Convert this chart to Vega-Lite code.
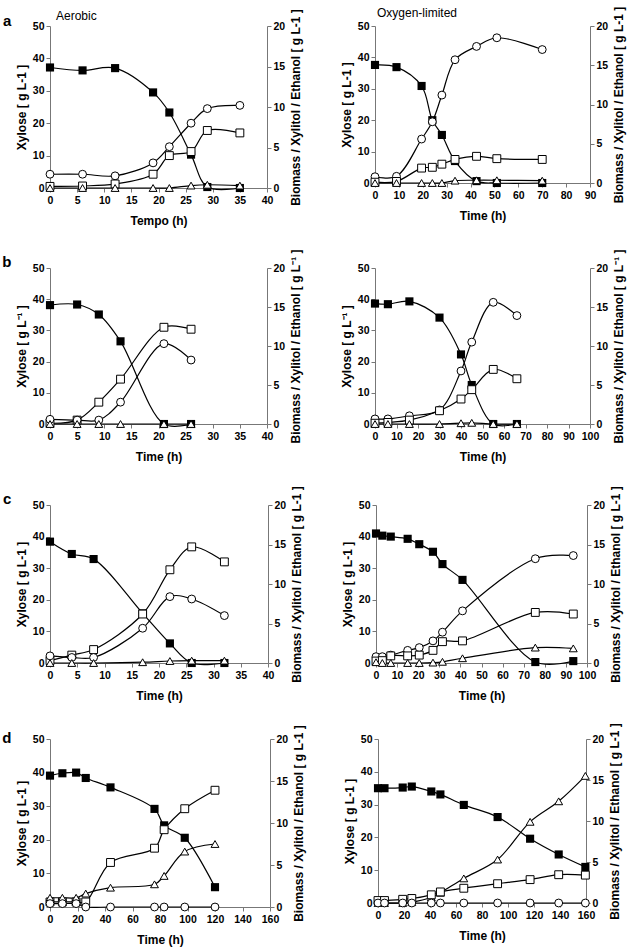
{
"$schema": "https://vega.github.io/schema/vega-lite/v6.json",
"padding": {"left": 2, "top": 6, "right": 2, "bottom": 2},
"spacing": 20,
"config": {
  "font": "Liberation Sans",
  "view": {"stroke": null},
  "axis": {"grid": false, "labelFont": "Liberation Sans", "labelFontWeight": "bold", "labelFontSize": 10.5, "labelColor": "black", "labelOverlap": false, "labelFlush": false, "titleFont": "Liberation Sans", "titleFontSize": 12, "titleFontWeight": "bold", "titleColor": "black", "domainColor": "#777", "tickColor": "#777", "tickSize": 4, "labelPadding": 2},
  "axisX": {"labelPadding": 3, "titlePadding": 10},
  "axisRight": {"titleAngle": 270, "titleBaseline": "top", "titlePadding": 6},
  "title": {"font": "Liberation Sans", "color": "black"}
},
"datasets": {"d": [
{"p":"aL","s":"X","t":0,"v":37.2},{"p":"aL","s":"X","t":6,"v":36.3},{"p":"aL","s":"X","t":12,"v":37},{"p":"aL","s":"X","t":19,"v":29.5},{"p":"aL","s":"X","t":22,"v":23.3},{"p":"aL","s":"X","t":26,"v":10.3},{"p":"aL","s":"X","t":29,"v":0.3},{"p":"aL","s":"X","t":35,"v":0},
{"p":"aL","s":"C","t":0,"v":1.7},{"p":"aL","s":"C","t":6,"v":1.7},{"p":"aL","s":"C","t":12,"v":1.5},{"p":"aL","s":"C","t":19,"v":3.1},{"p":"aL","s":"C","t":22,"v":5.1},{"p":"aL","s":"C","t":26,"v":8},{"p":"aL","s":"C","t":29,"v":9.8},{"p":"aL","s":"C","t":35,"v":10.2},
{"p":"aL","s":"S","t":0,"v":0.2},{"p":"aL","s":"S","t":6,"v":0.25},{"p":"aL","s":"S","t":12,"v":0.5},{"p":"aL","s":"S","t":19,"v":1.7},{"p":"aL","s":"S","t":22,"v":4},{"p":"aL","s":"S","t":26,"v":4.5},{"p":"aL","s":"S","t":29,"v":7.1},{"p":"aL","s":"S","t":35,"v":6.8},
{"p":"aL","s":"T","t":0,"v":0},{"p":"aL","s":"T","t":6,"v":0},{"p":"aL","s":"T","t":12,"v":0},{"p":"aL","s":"T","t":19,"v":0},{"p":"aL","s":"T","t":22,"v":0},{"p":"aL","s":"T","t":26,"v":0.3},{"p":"aL","s":"T","t":29,"v":0.4},{"p":"aL","s":"T","t":35,"v":0.3},
{"p":"aR","s":"X","t":0,"v":37.6},{"p":"aR","s":"X","t":9,"v":36.9},{"p":"aR","s":"X","t":19.5,"v":30.9},{"p":"aR","s":"X","t":24,"v":20},{"p":"aR","s":"X","t":28,"v":15.3},{"p":"aR","s":"X","t":33.5,"v":7},{"p":"aR","s":"X","t":42.5,"v":0.6},{"p":"aR","s":"X","t":51,"v":0},{"p":"aR","s":"X","t":70,"v":0},
{"p":"aR","s":"C","t":0,"v":0.8},{"p":"aR","s":"C","t":9,"v":0.85},{"p":"aR","s":"C","t":19.5,"v":5.6},{"p":"aR","s":"C","t":24,"v":7.8},{"p":"aR","s":"C","t":28,"v":11.2},{"p":"aR","s":"C","t":33.5,"v":15.7},{"p":"aR","s":"C","t":42.5,"v":17.4},{"p":"aR","s":"C","t":51,"v":18.5},{"p":"aR","s":"C","t":70,"v":17},
{"p":"aR","s":"S","t":0,"v":0.1},{"p":"aR","s":"S","t":9,"v":0.2},{"p":"aR","s":"S","t":19.5,"v":1.9},{"p":"aR","s":"S","t":24,"v":2},{"p":"aR","s":"S","t":28,"v":2.4},{"p":"aR","s":"S","t":33.5,"v":3},{"p":"aR","s":"S","t":42.5,"v":3.4},{"p":"aR","s":"S","t":51,"v":3.1},{"p":"aR","s":"S","t":70,"v":3},
{"p":"aR","s":"T","t":0,"v":0},{"p":"aR","s":"T","t":9,"v":0},{"p":"aR","s":"T","t":19.5,"v":0},{"p":"aR","s":"T","t":24,"v":0},{"p":"aR","s":"T","t":28,"v":0},{"p":"aR","s":"T","t":33.5,"v":0.3},{"p":"aR","s":"T","t":42.5,"v":0.35},{"p":"aR","s":"T","t":51,"v":0.35},{"p":"aR","s":"T","t":70,"v":0.3},
{"p":"bL","s":"X","t":0,"v":38.1},{"p":"bL","s":"X","t":5,"v":38.3},{"p":"bL","s":"X","t":9,"v":35.1},{"p":"bL","s":"X","t":13,"v":26.5},{"p":"bL","s":"X","t":21,"v":0},{"p":"bL","s":"X","t":26,"v":0},
{"p":"bL","s":"S","t":0,"v":0.1},{"p":"bL","s":"S","t":5,"v":0.5},{"p":"bL","s":"S","t":9,"v":2.8},{"p":"bL","s":"S","t":13,"v":5.75},{"p":"bL","s":"S","t":21,"v":12.4},{"p":"bL","s":"S","t":26,"v":12.15},
{"p":"bL","s":"C","t":0,"v":0.6},{"p":"bL","s":"C","t":5,"v":0.5},{"p":"bL","s":"C","t":9,"v":0.5},{"p":"bL","s":"C","t":13,"v":2.8},{"p":"bL","s":"C","t":21,"v":10.3},{"p":"bL","s":"C","t":26,"v":8.2},
{"p":"bL","s":"T","t":0,"v":0},{"p":"bL","s":"T","t":5,"v":0},{"p":"bL","s":"T","t":9,"v":0},{"p":"bL","s":"T","t":13,"v":0},{"p":"bL","s":"T","t":21,"v":0},{"p":"bL","s":"T","t":26,"v":0},
{"p":"bR","s":"X","t":0,"v":38.6},{"p":"bR","s":"X","t":6,"v":38.4},{"p":"bR","s":"X","t":16,"v":39.3},{"p":"bR","s":"X","t":30,"v":34.1},{"p":"bR","s":"X","t":40,"v":22.3},{"p":"bR","s":"X","t":45,"v":12.5},{"p":"bR","s":"X","t":55,"v":0},{"p":"bR","s":"X","t":66,"v":0},
{"p":"bR","s":"C","t":0,"v":0.65},{"p":"bR","s":"C","t":6,"v":0.65},{"p":"bR","s":"C","t":16,"v":1.05},{"p":"bR","s":"C","t":30,"v":1.8},{"p":"bR","s":"C","t":40,"v":6.8},{"p":"bR","s":"C","t":45,"v":10.5},{"p":"bR","s":"C","t":55,"v":15.6},{"p":"bR","s":"C","t":66,"v":13.9},
{"p":"bR","s":"S","t":0,"v":0.1},{"p":"bR","s":"S","t":6,"v":0.2},{"p":"bR","s":"S","t":16,"v":0.5},{"p":"bR","s":"S","t":30,"v":1.7},{"p":"bR","s":"S","t":40,"v":3.2},{"p":"bR","s":"S","t":45,"v":4.4},{"p":"bR","s":"S","t":55,"v":7},{"p":"bR","s":"S","t":66,"v":5.8},
{"p":"bR","s":"T","t":0,"v":0},{"p":"bR","s":"T","t":6,"v":0},{"p":"bR","s":"T","t":16,"v":0},{"p":"bR","s":"T","t":30,"v":0},{"p":"bR","s":"T","t":40,"v":0.1},{"p":"bR","s":"T","t":45,"v":0.15},{"p":"bR","s":"T","t":55,"v":0},{"p":"bR","s":"T","t":66,"v":0},
{"p":"cL","s":"X","t":0,"v":38.4},{"p":"cL","s":"X","t":4,"v":34.5},{"p":"cL","s":"X","t":8,"v":32.9},{"p":"cL","s":"X","t":17,"v":15.7},{"p":"cL","s":"X","t":22,"v":6.2},{"p":"cL","s":"X","t":26,"v":0},{"p":"cL","s":"X","t":32,"v":0},
{"p":"cL","s":"S","t":0,"v":0.3},{"p":"cL","s":"S","t":4,"v":1},{"p":"cL","s":"S","t":8,"v":1.7},{"p":"cL","s":"S","t":17,"v":6.2},{"p":"cL","s":"S","t":22,"v":11.8},{"p":"cL","s":"S","t":26,"v":14.7},{"p":"cL","s":"S","t":32,"v":12.8},
{"p":"cL","s":"C","t":0,"v":0.9},{"p":"cL","s":"C","t":4,"v":0.7},{"p":"cL","s":"C","t":8,"v":0.7},{"p":"cL","s":"C","t":17,"v":4.4},{"p":"cL","s":"C","t":22,"v":8.4},{"p":"cL","s":"C","t":26,"v":8.1},{"p":"cL","s":"C","t":32,"v":6},
{"p":"cL","s":"T","t":0,"v":0},{"p":"cL","s":"T","t":4,"v":0},{"p":"cL","s":"T","t":8,"v":0},{"p":"cL","s":"T","t":17,"v":0.1},{"p":"cL","s":"T","t":22,"v":0.25},{"p":"cL","s":"T","t":26,"v":0.3},{"p":"cL","s":"T","t":32,"v":0.3},
{"p":"cR","s":"X","t":0,"v":41},{"p":"cR","s":"X","t":3,"v":40.3},{"p":"cR","s":"X","t":7,"v":40},{"p":"cR","s":"X","t":15,"v":39.3},{"p":"cR","s":"X","t":20.5,"v":37.6},{"p":"cR","s":"X","t":27,"v":35.2},{"p":"cR","s":"X","t":31.5,"v":31.3},{"p":"cR","s":"X","t":41,"v":26.3},{"p":"cR","s":"X","t":75.5,"v":0.3},{"p":"cR","s":"X","t":93.5,"v":0.6},
{"p":"cR","s":"C","t":0,"v":0.8},{"p":"cR","s":"C","t":3,"v":0.8},{"p":"cR","s":"C","t":7,"v":1},{"p":"cR","s":"C","t":15,"v":1.6},{"p":"cR","s":"C","t":20.5,"v":1.95},{"p":"cR","s":"C","t":27,"v":2.8},{"p":"cR","s":"C","t":31.5,"v":3.9},{"p":"cR","s":"C","t":41,"v":6.6},{"p":"cR","s":"C","t":75.5,"v":13.2},{"p":"cR","s":"C","t":93.5,"v":13.6},
{"p":"cR","s":"S","t":0,"v":0.25},{"p":"cR","s":"S","t":3,"v":0.3},{"p":"cR","s":"S","t":7,"v":0.9},{"p":"cR","s":"S","t":15,"v":0.9},{"p":"cR","s":"S","t":20.5,"v":1},{"p":"cR","s":"S","t":27,"v":1.6},{"p":"cR","s":"S","t":31.5,"v":2.7},{"p":"cR","s":"S","t":41,"v":2.8},{"p":"cR","s":"S","t":75.5,"v":6.4},{"p":"cR","s":"S","t":93.5,"v":6.2},
{"p":"cR","s":"T","t":0,"v":0.1},{"p":"cR","s":"T","t":3,"v":0},{"p":"cR","s":"T","t":7,"v":0},{"p":"cR","s":"T","t":15,"v":0},{"p":"cR","s":"T","t":20.5,"v":0},{"p":"cR","s":"T","t":27,"v":0.05},{"p":"cR","s":"T","t":31.5,"v":0.15},{"p":"cR","s":"T","t":41,"v":0.6},{"p":"cR","s":"T","t":75.5,"v":1.95},{"p":"cR","s":"T","t":93.5,"v":1.85},
{"p":"dL","s":"X","t":0,"v":39.1},{"p":"dL","s":"X","t":9,"v":39.8},{"p":"dL","s":"X","t":19,"v":40},{"p":"dL","s":"X","t":26,"v":38.4},{"p":"dL","s":"X","t":44,"v":35.6},{"p":"dL","s":"X","t":76,"v":29.2},{"p":"dL","s":"X","t":83,"v":24.3},{"p":"dL","s":"X","t":98,"v":20.6},{"p":"dL","s":"X","t":120,"v":5.9},
{"p":"dL","s":"S","t":0,"v":0.6},{"p":"dL","s":"S","t":9,"v":0.6},{"p":"dL","s":"S","t":19,"v":0.6},{"p":"dL","s":"S","t":26,"v":0.6},{"p":"dL","s":"S","t":44,"v":5.3},{"p":"dL","s":"S","t":76,"v":7},{"p":"dL","s":"S","t":83,"v":9.2},{"p":"dL","s":"S","t":98,"v":11.7},{"p":"dL","s":"S","t":120,"v":13.9},
{"p":"dL","s":"T","t":0,"v":1.1},{"p":"dL","s":"T","t":9,"v":1.1},{"p":"dL","s":"T","t":19,"v":1.1},{"p":"dL","s":"T","t":26,"v":1.6},{"p":"dL","s":"T","t":44,"v":2.3},{"p":"dL","s":"T","t":76,"v":2.7},{"p":"dL","s":"T","t":83,"v":3.7},{"p":"dL","s":"T","t":98,"v":6.6},{"p":"dL","s":"T","t":120,"v":7.5},
{"p":"dL","s":"C","t":0,"v":0.4},{"p":"dL","s":"C","t":9,"v":0.4},{"p":"dL","s":"C","t":19,"v":0.4},{"p":"dL","s":"C","t":26,"v":0},{"p":"dL","s":"C","t":44,"v":0},{"p":"dL","s":"C","t":76,"v":0},{"p":"dL","s":"C","t":83,"v":0},{"p":"dL","s":"C","t":98,"v":0},{"p":"dL","s":"C","t":120,"v":0},
{"p":"dR","s":"X","t":0,"v":35},{"p":"dR","s":"X","t":5,"v":35},{"p":"dR","s":"X","t":19,"v":35.2},{"p":"dR","s":"X","t":26,"v":35.5},{"p":"dR","s":"X","t":41,"v":34},{"p":"dR","s":"X","t":48,"v":33.1},{"p":"dR","s":"X","t":66,"v":29.9},{"p":"dR","s":"X","t":92,"v":26.2},{"p":"dR","s":"X","t":117,"v":19.6},{"p":"dR","s":"X","t":139,"v":14.8},{"p":"dR","s":"X","t":159.5,"v":11},
{"p":"dR","s":"T","t":0,"v":0},{"p":"dR","s":"T","t":5,"v":0},{"p":"dR","s":"T","t":19,"v":0},{"p":"dR","s":"T","t":26,"v":0.1},{"p":"dR","s":"T","t":41,"v":0.7},{"p":"dR","s":"T","t":48,"v":1.25},{"p":"dR","s":"T","t":66,"v":3},{"p":"dR","s":"T","t":92,"v":5.3},{"p":"dR","s":"T","t":117,"v":9.9},{"p":"dR","s":"T","t":139,"v":12.4},{"p":"dR","s":"T","t":159.5,"v":15.5},
{"p":"dR","s":"S","t":0,"v":0.3},{"p":"dR","s":"S","t":5,"v":0.3},{"p":"dR","s":"S","t":19,"v":0.45},{"p":"dR","s":"S","t":26,"v":0.55},{"p":"dR","s":"S","t":41,"v":1},{"p":"dR","s":"S","t":48,"v":1.35},{"p":"dR","s":"S","t":66,"v":1.8},{"p":"dR","s":"S","t":92,"v":2.35},{"p":"dR","s":"S","t":117,"v":2.85},{"p":"dR","s":"S","t":139,"v":3.45},{"p":"dR","s":"S","t":159.5,"v":3.4},
{"p":"dR","s":"C","t":0,"v":0},{"p":"dR","s":"C","t":5,"v":0},{"p":"dR","s":"C","t":19,"v":0},{"p":"dR","s":"C","t":26,"v":0},{"p":"dR","s":"C","t":41,"v":0},{"p":"dR","s":"C","t":48,"v":0},{"p":"dR","s":"C","t":66,"v":0},{"p":"dR","s":"C","t":92,"v":0},{"p":"dR","s":"C","t":117,"v":0},{"p":"dR","s":"C","t":139,"v":0},{"p":"dR","s":"C","t":159.5,"v":0}
]},
"data": {"name": "d"},
"vconcat": [
{"title": {"text": "a", "orient": "left", "anchor": "end", "angle": 0, "align": "left", "baseline": "alphabetic", "offset": 4, "dy": 20, "fontSize": 15, "fontWeight": "bold"},
 "spacing": 38,
 "hconcat": [
 {"width": 217, "height": 162,
  "title": {"text": "Aerobic", "anchor": "start", "frame": "group", "dx": 6, "offset": -14, "fontSize": 12, "fontWeight": "normal"},
  "transform": [{"filter": "datum.p==='aL'"}],
  "encoding": {"x": {"field": "t", "type": "quantitative", "scale": {"domain": [0, 40], "nice": false}, "axis": {"title": "Tempo (h)", "tickCount": 8}}},
  "layer": [
   {"transform": [{"filter": "datum.s==='X'"}],
    "encoding": {"y": {"field": "v", "type": "quantitative", "scale": {"domain": [0, 50], "nice": false}, "axis": {"title": "Xylose [ g L-1 ]", "tickCount": 5, "orient": "left"}}},
    "layer": [{"mark": {"type": "line", "interpolate": "catmull-rom", "color": "black", "strokeWidth": 1.2}, "encoding": {}},
              {"mark": {"type": "point", "shape": "square", "filled": true, "color": "black", "opacity": 1, "size": 66}}]},
   {"transform": [{"filter": "datum.s!=='X'"}],
    "encoding": {"y": {"field": "v", "type": "quantitative", "scale": {"domain": [0, 20], "nice": false}, "axis": {"title": "Biomass / Xylitol / Ethanol [ g L-1 ]", "tickCount": 4, "orient": "right"}}},
    "layer": [{"mark": {"type": "line", "interpolate": "catmull-rom", "color": "black", "strokeWidth": 1.2}, "encoding": {"detail": {"field": "s"}}},
              {"mark": {"type": "point", "filled": true, "fill": "white", "stroke": "black", "strokeWidth": 1, "opacity": 1, "size": 62}, "encoding": {"shape": {"field": "s", "type": "nominal", "scale": {"domain": ["C", "S", "T"], "range": ["circle", "square", "triangle-up"]}, "legend": null}}}]}
  ],
  "resolve": {"scale": {"y": "independent"}}},
 {"width": 215, "height": 157,
  "title": {"text": "Oxygen-limited", "anchor": "start", "frame": "group", "dx": 2, "offset": -14, "fontSize": 12, "fontWeight": "normal"},
  "transform": [{"filter": "datum.p==='aR'"}],
  "encoding": {"x": {"field": "t", "type": "quantitative", "scale": {"domain": [0, 90], "nice": false}, "axis": {"title": "Time (h)", "tickCount": 9}}},
  "layer": [
   {"transform": [{"filter": "datum.s==='X'"}],
    "encoding": {"y": {"field": "v", "type": "quantitative", "scale": {"domain": [0, 50], "nice": false}, "axis": {"title": "Xylose [ g L-1 ]", "tickCount": 5, "orient": "left"}}},
    "layer": [{"mark": {"type": "line", "interpolate": "catmull-rom", "color": "black", "strokeWidth": 1.2}, "encoding": {}},
              {"mark": {"type": "point", "shape": "square", "filled": true, "color": "black", "opacity": 1, "size": 66}}]},
   {"transform": [{"filter": "datum.s!=='X'"}],
    "encoding": {"y": {"field": "v", "type": "quantitative", "scale": {"domain": [0, 20], "nice": false}, "axis": {"title": "Biomass / Xylitol / Ethanol [ g L-1 ]", "tickCount": 4, "orient": "right"}}},
    "layer": [{"mark": {"type": "line", "interpolate": "catmull-rom", "color": "black", "strokeWidth": 1.2}, "encoding": {"detail": {"field": "s"}}},
              {"mark": {"type": "point", "filled": true, "fill": "white", "stroke": "black", "strokeWidth": 1, "opacity": 1, "size": 62}, "encoding": {"shape": {"field": "s", "type": "nominal", "scale": {"domain": ["C", "S", "T"], "range": ["circle", "square", "triangle-up"]}, "legend": null}}}]}
  ],
  "resolve": {"scale": {"y": "independent"}}}
 ]},
{"title": {"text": "b", "orient": "left", "anchor": "end", "angle": 0, "align": "left", "baseline": "alphabetic", "offset": 4, "dy": 20, "fontSize": 15, "fontWeight": "bold"},
 "spacing": 38,
 "hconcat": [
 {"width": 217, "height": 156,
  "transform": [{"filter": "datum.p==='bL'"}],
  "encoding": {"x": {"field": "t", "type": "quantitative", "scale": {"domain": [0, 40], "nice": false}, "axis": {"title": "Time (h)", "tickCount": 8}}},
  "layer": [
   {"transform": [{"filter": "datum.s==='X'"}],
    "encoding": {"y": {"field": "v", "type": "quantitative", "scale": {"domain": [0, 50], "nice": false}, "axis": {"title": "Xylose [ g L⁻¹ ]", "tickCount": 5, "orient": "left"}}},
    "layer": [{"mark": {"type": "line", "interpolate": "catmull-rom", "color": "black", "strokeWidth": 1.2}, "encoding": {}},
              {"mark": {"type": "point", "shape": "square", "filled": true, "color": "black", "opacity": 1, "size": 66}}]},
   {"transform": [{"filter": "datum.s!=='X'"}],
    "encoding": {"y": {"field": "v", "type": "quantitative", "scale": {"domain": [0, 20], "nice": false}, "axis": {"title": "Biomass / Xylitol / Ethanol  [ g L⁻¹ ]", "tickCount": 4, "orient": "right"}}},
    "layer": [{"mark": {"type": "line", "interpolate": "catmull-rom", "color": "black", "strokeWidth": 1.2}, "encoding": {"detail": {"field": "s"}}},
              {"mark": {"type": "point", "filled": true, "fill": "white", "stroke": "black", "strokeWidth": 1, "opacity": 1, "size": 62}, "encoding": {"shape": {"field": "s", "type": "nominal", "scale": {"domain": ["C", "S", "T"], "range": ["circle", "square", "triangle-up"]}, "legend": null}}}]}
  ],
  "resolve": {"scale": {"y": "independent"}}},
 {"width": 215, "height": 156,
  "transform": [{"filter": "datum.p==='bR'"}],
  "encoding": {"x": {"field": "t", "type": "quantitative", "scale": {"domain": [0, 100], "nice": false}, "axis": {"title": "Time (h)", "tickCount": 10}}},
  "layer": [
   {"transform": [{"filter": "datum.s==='X'"}],
    "encoding": {"y": {"field": "v", "type": "quantitative", "scale": {"domain": [0, 50], "nice": false}, "axis": {"title": "Xylose [ g L⁻¹ ]", "tickCount": 5, "orient": "left"}}},
    "layer": [{"mark": {"type": "line", "interpolate": "catmull-rom", "color": "black", "strokeWidth": 1.2}, "encoding": {}},
              {"mark": {"type": "point", "shape": "square", "filled": true, "color": "black", "opacity": 1, "size": 66}}]},
   {"transform": [{"filter": "datum.s!=='X'"}],
    "encoding": {"y": {"field": "v", "type": "quantitative", "scale": {"domain": [0, 20], "nice": false}, "axis": {"title": "Biomass / Xylitol / Ethanol  [ g L⁻¹ ]", "tickCount": 4, "orient": "right"}}},
    "layer": [{"mark": {"type": "line", "interpolate": "catmull-rom", "color": "black", "strokeWidth": 1.2}, "encoding": {"detail": {"field": "s"}}},
              {"mark": {"type": "point", "filled": true, "fill": "white", "stroke": "black", "strokeWidth": 1, "opacity": 1, "size": 62}, "encoding": {"shape": {"field": "s", "type": "nominal", "scale": {"domain": ["C", "S", "T"], "range": ["circle", "square", "triangle-up"]}, "legend": null}}}]}
  ],
  "resolve": {"scale": {"y": "independent"}}}
 ]},
{"title": {"text": "c", "orient": "left", "anchor": "end", "angle": 0, "align": "left", "baseline": "alphabetic", "offset": 4, "dy": 20, "fontSize": 15, "fontWeight": "bold"},
 "spacing": 38,
 "hconcat": [
 {"width": 218, "height": 158,
  "transform": [{"filter": "datum.p==='cL'"}],
  "encoding": {"x": {"field": "t", "type": "quantitative", "scale": {"domain": [0, 40], "nice": false}, "axis": {"title": "Time (h)", "tickCount": 8}}},
  "layer": [
   {"transform": [{"filter": "datum.s==='X'"}],
    "encoding": {"y": {"field": "v", "type": "quantitative", "scale": {"domain": [0, 50], "nice": false}, "axis": {"title": "Xylose [ g L-1 ]", "tickCount": 5, "orient": "left"}}},
    "layer": [{"mark": {"type": "line", "interpolate": "catmull-rom", "color": "black", "strokeWidth": 1.2}, "encoding": {}},
              {"mark": {"type": "point", "shape": "square", "filled": true, "color": "black", "opacity": 1, "size": 66}}]},
   {"transform": [{"filter": "datum.s!=='X'"}],
    "encoding": {"y": {"field": "v", "type": "quantitative", "scale": {"domain": [0, 20], "nice": false}, "axis": {"title": "Biomass / Xylitol / Ethanol  [ g L-1 ]", "tickCount": 4, "orient": "right"}}},
    "layer": [{"mark": {"type": "line", "interpolate": "catmull-rom", "color": "black", "strokeWidth": 1.2}, "encoding": {"detail": {"field": "s"}}},
              {"mark": {"type": "point", "filled": true, "fill": "white", "stroke": "black", "strokeWidth": 1, "opacity": 1, "size": 62}, "encoding": {"shape": {"field": "s", "type": "nominal", "scale": {"domain": ["C", "S", "T"], "range": ["circle", "square", "triangle-up"]}, "legend": null}}}]}
  ],
  "resolve": {"scale": {"y": "independent"}}},
 {"width": 211, "height": 158,
  "transform": [{"filter": "datum.p==='cR'"}],
  "encoding": {"x": {"field": "t", "type": "quantitative", "scale": {"domain": [0, 100], "nice": false}, "axis": {"title": "Time (h)", "tickCount": 10}}},
  "layer": [
   {"transform": [{"filter": "datum.s==='X'"}],
    "encoding": {"y": {"field": "v", "type": "quantitative", "scale": {"domain": [0, 50], "nice": false}, "axis": {"title": "Xylose [ g L-1 ]", "tickCount": 5, "orient": "left"}}},
    "layer": [{"mark": {"type": "line", "interpolate": "catmull-rom", "color": "black", "strokeWidth": 1.2}, "encoding": {}},
              {"mark": {"type": "point", "shape": "square", "filled": true, "color": "black", "opacity": 1, "size": 66}}]},
   {"transform": [{"filter": "datum.s!=='X'"}],
    "encoding": {"y": {"field": "v", "type": "quantitative", "scale": {"domain": [0, 20], "nice": false}, "axis": {"title": "Biomass / Xylitol / Ethanol  [ g L-1 ]", "tickCount": 4, "orient": "right"}}},
    "layer": [{"mark": {"type": "line", "interpolate": "catmull-rom", "color": "black", "strokeWidth": 1.2}, "encoding": {"detail": {"field": "s"}}},
              {"mark": {"type": "point", "filled": true, "fill": "white", "stroke": "black", "strokeWidth": 1, "opacity": 1, "size": 62}, "encoding": {"shape": {"field": "s", "type": "nominal", "scale": {"domain": ["C", "S", "T"], "range": ["circle", "square", "triangle-up"]}, "legend": null}}}]}
  ],
  "resolve": {"scale": {"y": "independent"}}}
 ]},
{"title": {"text": "d", "orient": "left", "anchor": "end", "angle": 0, "align": "left", "baseline": "alphabetic", "offset": 4, "dy": 20, "fontSize": 15, "fontWeight": "bold"},
 "spacing": 38,
 "hconcat": [
 {"width": 220, "height": 168,
  "transform": [{"filter": "datum.p==='dL'"}],
  "encoding": {"x": {"field": "t", "type": "quantitative", "scale": {"domain": [0, 160], "nice": false}, "axis": {"title": "Time (h)", "tickCount": 8}}},
  "layer": [
   {"transform": [{"filter": "datum.s==='X'"}],
    "encoding": {"y": {"field": "v", "type": "quantitative", "scale": {"domain": [0, 50], "nice": false}, "axis": {"title": "Xylose [ g L-1 ]", "tickCount": 5, "orient": "left"}}},
    "layer": [{"mark": {"type": "line", "interpolate": "catmull-rom", "color": "black", "strokeWidth": 1.2}, "encoding": {}},
              {"mark": {"type": "point", "shape": "square", "filled": true, "color": "black", "opacity": 1, "size": 66}}]},
   {"transform": [{"filter": "datum.s!=='X'"}],
    "encoding": {"y": {"field": "v", "type": "quantitative", "scale": {"domain": [0, 20], "nice": false}, "axis": {"title": "Biomass / Xylitol / Ethanol [ g L-1 ]", "tickCount": 4, "orient": "right"}}},
    "layer": [{"mark": {"type": "line", "interpolate": "catmull-rom", "color": "black", "strokeWidth": 1.2}, "encoding": {"detail": {"field": "s"}}},
              {"mark": {"type": "point", "filled": true, "fill": "white", "stroke": "black", "strokeWidth": 1, "opacity": 1, "size": 62}, "encoding": {"shape": {"field": "s", "type": "nominal", "scale": {"domain": ["C", "S", "T"], "range": ["circle", "square", "triangle-up"]}, "legend": null}}}]}
  ],
  "resolve": {"scale": {"y": "independent"}}},
 {"width": 208, "height": 164,
  "transform": [{"filter": "datum.p==='dR'"}],
  "encoding": {"x": {"field": "t", "type": "quantitative", "scale": {"domain": [0, 160], "nice": false}, "axis": {"title": "Time (h)", "tickCount": 8}}},
  "layer": [
   {"transform": [{"filter": "datum.s==='X'"}],
    "encoding": {"y": {"field": "v", "type": "quantitative", "scale": {"domain": [0, 50], "nice": false}, "axis": {"title": "Xylose [ g L-1 ]", "tickCount": 5, "orient": "left"}}},
    "layer": [{"mark": {"type": "line", "interpolate": "catmull-rom", "color": "black", "strokeWidth": 1.2}, "encoding": {}},
              {"mark": {"type": "point", "shape": "square", "filled": true, "color": "black", "opacity": 1, "size": 66}}]},
   {"transform": [{"filter": "datum.s!=='X'"}],
    "encoding": {"y": {"field": "v", "type": "quantitative", "scale": {"domain": [0, 20], "nice": false}, "axis": {"title": "Biomass / Xylitol / Ethanol [ g L-1 ]", "tickCount": 4, "orient": "right"}}},
    "layer": [{"mark": {"type": "line", "interpolate": "catmull-rom", "color": "black", "strokeWidth": 1.2}, "encoding": {"detail": {"field": "s"}}},
              {"mark": {"type": "point", "filled": true, "fill": "white", "stroke": "black", "strokeWidth": 1, "opacity": 1, "size": 62}, "encoding": {"shape": {"field": "s", "type": "nominal", "scale": {"domain": ["C", "S", "T"], "range": ["circle", "square", "triangle-up"]}, "legend": null}}}]}
  ],
  "resolve": {"scale": {"y": "independent"}}}
 ]}
]
}
